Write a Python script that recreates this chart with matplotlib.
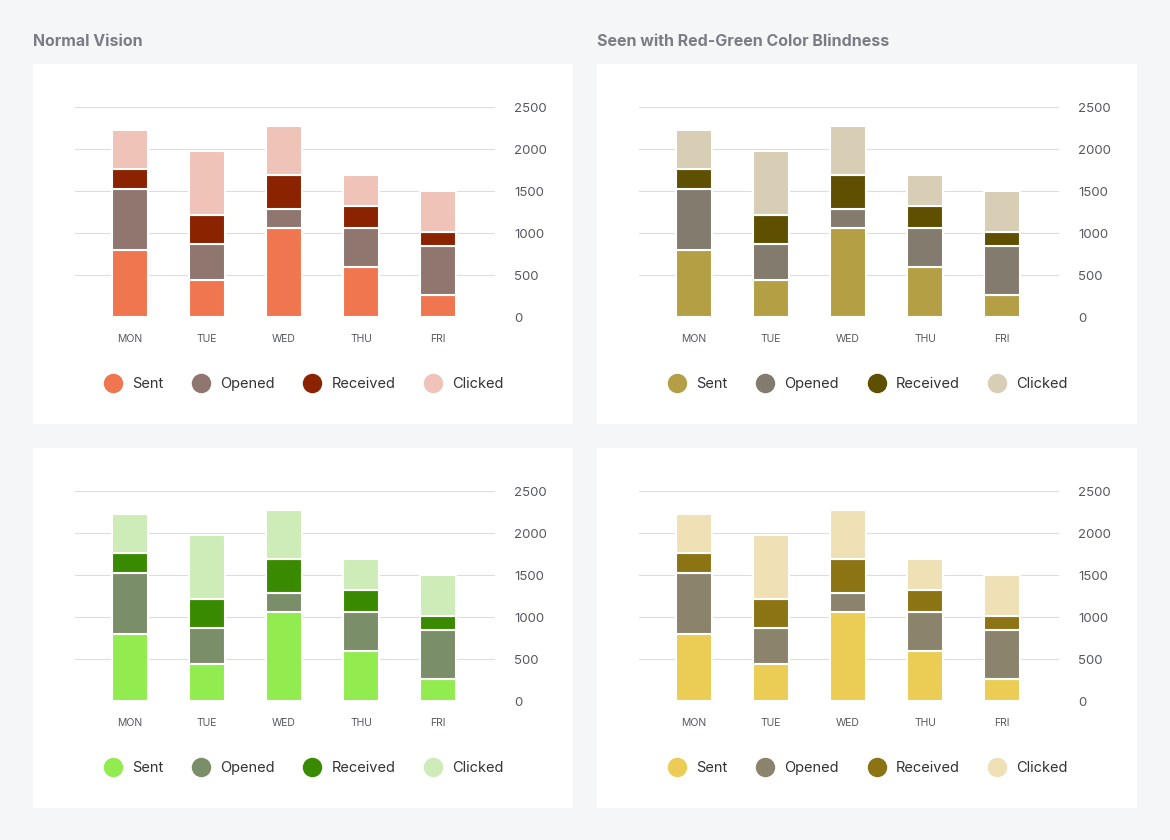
import matplotlib
matplotlib.use("Agg")
import matplotlib.pyplot as plt
from matplotlib.lines import Line2D

days = ["MON", "TUE", "WED", "THU", "FRI"]
series = ["Sent", "Opened", "Received", "Clicked"]
sent = [800, 440, 1060, 600, 260]
opened = [720, 430, 225, 465, 585]
received = [240, 345, 405, 260, 165]
clicked = [465, 760, 585, 370, 490]
values = [sent, opened, received, clicked]

palettes = [
    ["#f07650", "#8f766f", "#8b2200", "#efc3b8"],
    ["#b59f45", "#837b6d", "#5e5000", "#d8cdb5"],
    ["#92eb4f", "#7b8e6a", "#3a8a00", "#cdecb8"],
    ["#ebcd55", "#8c836d", "#8c7414", "#efe0b5"],
]
titles = ["Normal Vision", "Seen with Red-Green Color Blindness", "", ""]

W, H = 1170, 840
plt.rcParams["font.family"] = ["Inter", "DejaVu Sans"]
fig = plt.figure(figsize=(W / 100, H / 100), dpi=100)
fig.patch.set_facecolor("#f5f6f8")

origins = [(33, 64), (597, 64), (33, 448), (597, 448)]

for k, (px, py) in enumerate(origins):
    # white panel behind the chart
    bg = fig.add_axes([px / W, 1 - (py + 360) / H, 540 / W, 360 / H], zorder=0)
    bg.set_facecolor("white")
    bg.set_xticks([])
    bg.set_yticks([])
    for s in bg.spines.values():
        s.set_visible(False)

    if titles[k]:
        fig.text(px / W, 1 - (py - 22) / H, titles[k], fontsize=11.5,
                 fontweight="bold", color="#7a7d84", va="center")

    ax = fig.add_axes([(px + 42) / W, 1 - (py + 253) / H, 420 / W, 210 / H], zorder=1)
    ax.set_facecolor("none")
    bottom = [0] * len(days)
    for vals, col in zip(values, palettes[k]):
        ax.bar(range(len(days)), vals, bottom=bottom, width=0.47, color=col,
               edgecolor="white", linewidth=1.5, zorder=3)
        bottom = [b + v for b, v in zip(bottom, vals)]
    ax.set_xlim(-0.714, 4.74)
    ax.set_ylim(0, 2500)
    ax.set_yticks(range(0, 2501, 500))
    ax.yaxis.tick_right()
    ax.grid(axis="y", color="#dcdde0", linewidth=0.8, zorder=0)
    for s in ax.spines.values():
        s.set_visible(False)
    ax.tick_params(axis="both", length=0, colors="#55585e")
    ax.tick_params(axis="y", labelsize=9.5, pad=14)
    ax.set_xticks(range(len(days)))
    ax.set_xticklabels(days, fontsize=7.5)
    ax.tick_params(axis="x", pad=12)

    handles = [Line2D([], [], marker="o", linestyle="none", markersize=14,
                      markerfacecolor=c, markeredgecolor="none") for c in palettes[k]]
    leg = fig.legend(handles, series, loc="center", ncol=4, frameon=False,
                     bbox_to_anchor=((px + 268) / W, 1 - (py + 320) / H),
                     fontsize=10.5, handletextpad=0.3, columnspacing=1.6,
                     labelcolor="#333333")
    leg.set_zorder(2)

fig.savefig("out.png", dpi=100, facecolor=fig.get_facecolor())
